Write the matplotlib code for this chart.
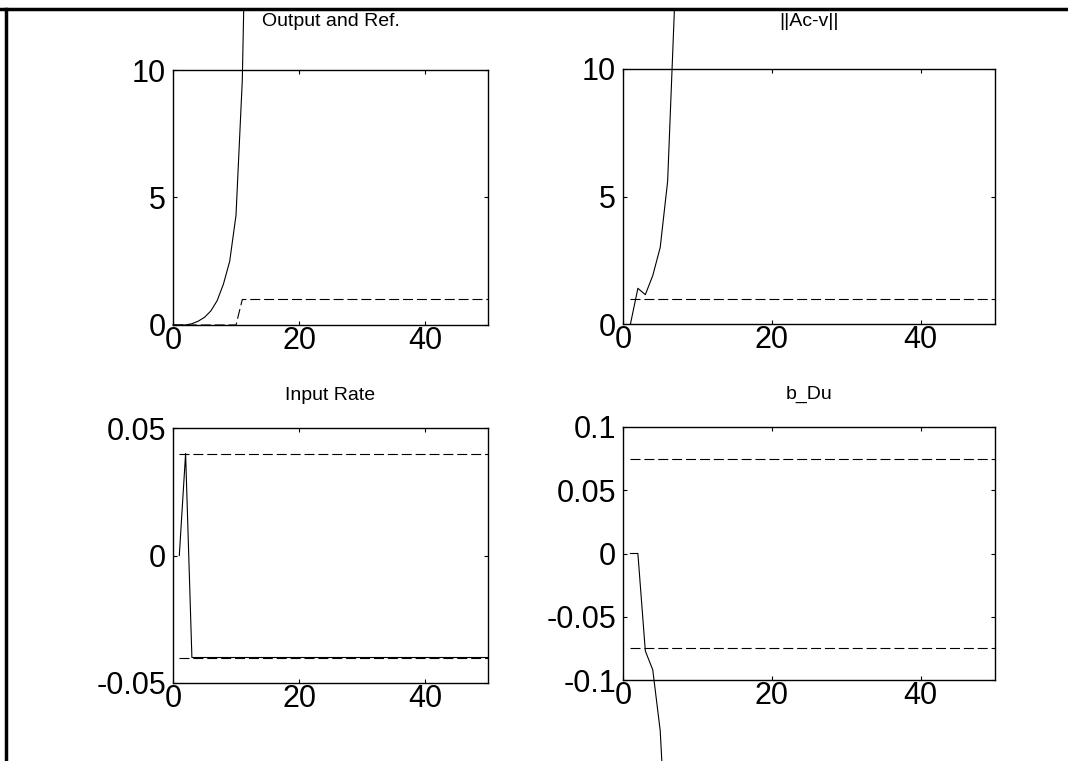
import numpy as np
import matplotlib
matplotlib.use('Agg')
import matplotlib.pyplot as plt
from matplotlib.lines import Line2D
from matplotlib.transforms import Bbox, TransformedBbox

plt.rcParams['font.family'] = ['Liberation Sans', 'DejaVu Sans']

# output and reference
out_k = [0, 1, 2, 3, 4, 5, 6, 7, 8, 9, 10, 11, 12]
out_y = [0, 0, 0, 0.05, 0.15, 0.3, 0.55, 0.95, 1.6, 2.5, 4.3, 9.6, 22]
ref_k = [0, 10, 11, 50]
ref_y = [0, 0, 1, 1]

# ||Ac-v|| and its bound
err_k = [1, 2, 3, 4, 5, 6, 7]
err_y = [0, 1.4, 1.15, 1.9, 3.0, 5.6, 13]
err_ref_k = [1, 50]
err_ref_y = [1, 1]

# input rate and limits
rate_k = [1, 2, 3, 50]
rate_y = [0, 0.04, -0.04, -0.04]
rate_lim_k = [1, 50]
rate_lim = 0.04

# b_Du and limits
du_k = [1, 2, 3, 4, 5, 6]
du_y = [0, 0, -0.077, -0.092, -0.14, -0.25]
du_lim_k = [1, 50]
du_lim = 0.075

titles = ['Output and Ref.', '||Ac-v||', 'Input Rate', 'b_Du']

W, H = 1068, 761
fig = plt.figure(figsize=(W / 100, H / 100), dpi=100)
fig.patch.set_facecolor('white')

# axes boxes in pixels (left, top, right, bottom)
boxes = [(173, 70, 488, 325), (623, 69, 995, 324),
         (173, 428, 488, 683), (623, 427, 995, 680)]
axs = []
for (l, t, r, b) in boxes:
    ax = fig.add_axes([l / W, 1 - b / H, (r - l) / W, (b - t) / H])
    axs.append(ax)

frame_clip = TransformedBbox(Bbox.from_extents(0, 0, 1, 1 - 10 / H), fig.transFigure)
dash = (9, 3.5)


def solid(ax, x, y):
    ln, = ax.plot(x, y, color='black', lw=0.8)
    ln.set_clip_box(frame_clip)


def dashed(ax, x, y):
    ln, = ax.plot(x, y, color='black', lw=0.8, linestyle=(0, dash))
    ln.set_clip_box(frame_clip)


ax = axs[0]
dashed(ax, ref_k, ref_y)
solid(ax, out_k, out_y)
ax.set_ylim(0, 10)
ax.set_yticks([0, 5, 10])

ax = axs[1]
dashed(ax, err_ref_k, err_ref_y)
solid(ax, err_k, err_y)
ax.set_ylim(0, 10)
ax.set_yticks([0, 5, 10])

ax = axs[2]
dashed(ax, rate_lim_k, [rate_lim, rate_lim])
dashed(ax, rate_lim_k, [-rate_lim, -rate_lim])
solid(ax, rate_k, rate_y)
ax.set_ylim(-0.05, 0.05)
ax.set_yticks([-0.05, 0, 0.05])
ax.set_yticklabels(['-0.05', '0', '0.05'])

ax = axs[3]
dashed(ax, du_lim_k, [du_lim, du_lim])
dashed(ax, du_lim_k, [-du_lim, -du_lim])
solid(ax, du_k, du_y)
ax.set_ylim(-0.1, 0.1)
ax.set_yticks([-0.1, -0.05, 0, 0.05, 0.1])
ax.set_yticklabels(['-0.1', '-0.05', '0', '0.05', '0.1'])

for ax in axs:
    ax.set_xlim(0, 50)
    ax.set_xticks([0, 20, 40])
    ax.set_xticklabels(['0', '20', '40'])
    ax.tick_params(direction='in', length=3, width=0.8, top=True, right=True,
                   labelsize=22)
    ax.tick_params(axis='x', pad=1)
    ax.tick_params(axis='y', pad=5)
    for s in ax.spines.values():
        s.set_linewidth(1.0)

title_y = [22, 22, 395, 394]
for ax, t, (l, tp, r, b), ty in zip(axs, titles, boxes, title_y):
    fig.text((l + r) / 2 / W, 1 - ty / H, t, ha='center', va='center', fontsize=14)

# scanned page frame: top and left edges
fig.add_artist(Line2D([0, 1], [1 - 9 / H, 1 - 9 / H], transform=fig.transFigure,
                      color='black', lw=2.5))
fig.add_artist(Line2D([6 / W, 6 / W], [0, 1 - 9 / H], transform=fig.transFigure,
                      color='black', lw=2.5))

fig.savefig('out.png', dpi=100)
